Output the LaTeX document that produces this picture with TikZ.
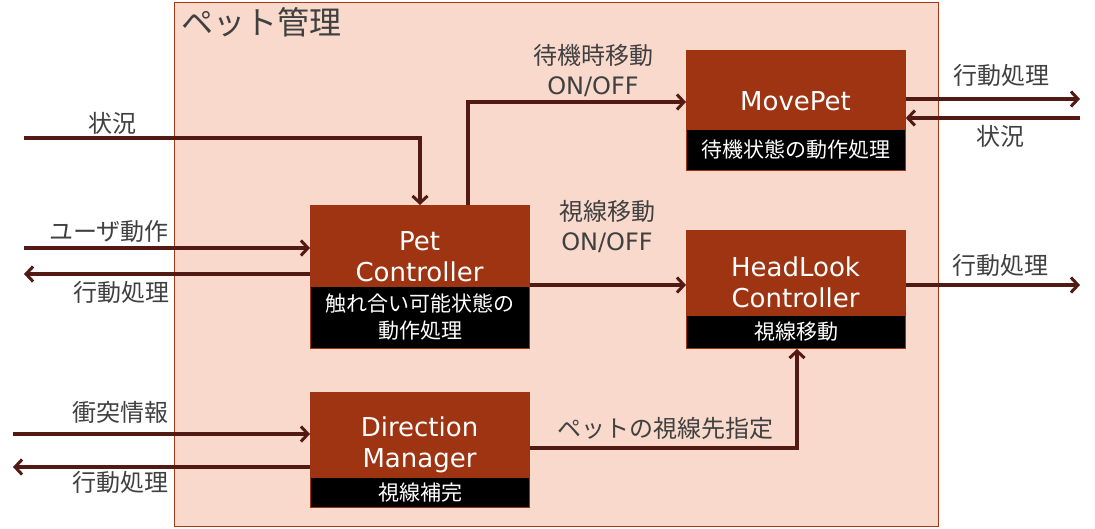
\documentclass[tikz,border=0pt]{standalone}
\usepackage{fontspec}
\setmainfont{Noto Sans CJK JP}
\newfontfamily\lat{DejaVu Sans}
\usetikzlibrary{arrows.meta,calc}
\definecolor{boxbrown}{HTML}{9E3412}
\definecolor{panel}{HTML}{F8D9CC}
\definecolor{panelline}{HTML}{A33A14}
\definecolor{wire}{HTML}{521A12}
\definecolor{lbl}{HTML}{404040}
\tikzset{
  brownbox/.style={fill=boxbrown, draw=boxbrown, line width=0.8pt, minimum width=219pt, anchor=north west, inner sep=0pt},
  subbox/.style={fill=black, draw=boxbrown, line width=1pt, minimum width=219pt, anchor=north west, inner sep=0pt, text=white, align=center, font=\fontsize{21}{27}\selectfont},
  boxtext/.style={text=white, align=center, font=\lat\fontsize{26}{31}\selectfont, inner sep=0pt},
  lab/.style={text=lbl, align=center, font=\fontsize{24}{30}\selectfont, inner sep=0pt},
  wireline/.style={draw=wire, line width=3.2pt},
  arr/.style={wireline, -{Straight Barb[length=7pt,width=15pt,line width=3pt]}},
}
\begin{document}
\begin{tikzpicture}[x=1pt,y=-1pt]
\useasboundingbox (0,0) rectangle (1095,528);
% panel
\node[fill=panel, draw=panelline, line width=1pt, minimum width=764pt, minimum height=524pt, anchor=north west, inner sep=0pt] (panel) at (174,2) {};
\node[text=lbl, font=\fontsize{32}{34}\selectfont, anchor=west, inner sep=0pt] (title) at (181,22) {ペット管理};

% Pet Controller
\node[brownbox, minimum height=81pt] (pc) at (310,205) {};
\node[subbox, minimum height=62pt] (pcs) at (310,286) {触れ合い可能状態の\\動作処理};
\node[boxtext] (pct) at (419.5,256.5) {Pet\\Controller};

% MovePet
\node[brownbox, minimum height=79pt] (mp) at (686,50) {};
\node[subbox, minimum height=41pt] (mps) at (686,129) {待機状態の動作処理};
\node[boxtext] (mpt) at (795.5,101) {MovePet};

% HeadLook Controller
\node[brownbox, minimum height=85pt] (hl) at (686,230) {};
\node[subbox, minimum height=33pt] (hls) at (686,315) {視線移動};
\node[boxtext] (hlt) at (795.5,282.5) {HeadLook\\Controller};

% Direction Manager
\node[brownbox, minimum height=85pt] (dm) at (310,392) {};
\node[subbox, minimum height=30pt] (dms) at (310,477) {視線補完};
\node[boxtext] (dmt) at (419.5,444.5) {Direction\\Manager};

% free ends
\coordinate (s1) at (24,138);
\coordinate (u1) at (24,248);
\coordinate (a1) at (24,274);
\coordinate (c1) at (13,434);
\coordinate (a2) at (13,467);
\coordinate (r1) at (1080,99);
\coordinate (r2) at (1080,118);
\coordinate (r3) at (1080,285);

% left side connectors
\draw[arr] (s1) -| (pc.north -| 420,0);
\draw[arr] (u1) -- (u1 -| pc.west);
\draw[arr] (a1 -| pc.west) -- (a1);
\draw[arr] (c1) -- (c1 -| dm.west);
\draw[arr] (a2 -| dm.west) -- (a2);

% internal connectors
\draw[arr] (pc.north -| 468,0) |- (mp.west |- 0,102);
\draw[arr] (pc.east |- 0,285) -- (hl.west |- 0,285);
\draw[arr] (dm.east |- 0,448) -| (hls.south -| 797,0);

% right side connectors
\draw[arr] (mp.east |- r1) -- (r1);
\draw[arr] (r2) -- (r2 -| mp.east);
\draw[arr] (hl.east |- r3) -- (r3);

% labels
\node[lab] (l1) at (112,123) {状況};
\node[lab] (l2) at (109,231) {ユーザ動作};
\node[lab] (l3) at (121,292) {行動処理};
\node[lab] (l4) at (120,412) {衝突情報};
\node[lab] (l5) at (120,482) {行動処理};
\node[lab] (l6) at (593,71) {待機時移動\\{\lat ON/OFF}};
\node[lab] (l7) at (607,227) {視線移動\\{\lat ON/OFF}};
\node[lab] (l8) at (665,428) {ペットの視線先指定};
\node[lab] (l9) at (1001,75) {行動処理};
\node[lab] (l10) at (1000,136) {状況};
\node[lab] (l11) at (1000,265) {行動処理};
\end{tikzpicture}
\end{document}
